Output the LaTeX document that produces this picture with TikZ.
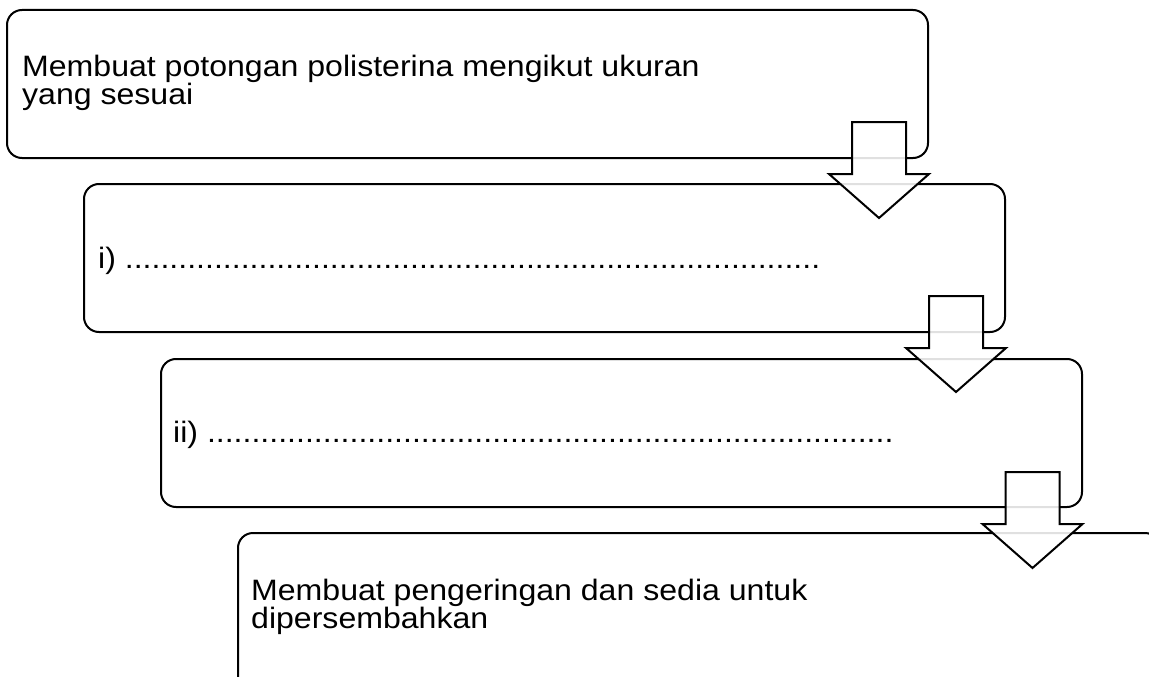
\documentclass[tikz,border=0pt]{standalone}
\usepackage{fontspec}
\setmainfont{Liberation Sans}[FakeStretch=1.087]
\begin{document}
\begin{tikzpicture}[x=1pt,y=-1pt,
  box/.style={draw=black, line width=2pt, rounded corners=15pt, fill=none,
    anchor=north west, inner sep=0pt, minimum width=921pt, minimum height=148pt},
  txt/.style={inner sep=0pt, anchor=base west, align=left, text=black,
    font=\fontsize{29.5}{28}\selectfont},
  arrowbody/.style={draw=black, line width=2pt, fill=white, fill opacity=0.88, line join=miter},
  blockarrow/.pic={\path[arrowbody] (-27,0) -- (27,0) -- (27,52) -- (50,52) -- (0,96) -- (-50,52) -- (-27,52) -- cycle;}
]
\useasboundingbox (0,0) rectangle (1149,677);
\clip (0,0) rectangle (1149,677);
\node[box] (b1) at (6,9) {};
\node[box] (b2) at (83,183) {};
\node[box] (b3) at (160,358) {};
\node[box, minimum width=922pt, minimum height=170pt] (b4) at (237,532) {};
\node[txt] (t1) at (22,104) {Membuat potongan polisterina mengikut ukuran\\yang sesuai};
\node[txt] (t2) at (98,268) {i) ..............................................................................};
\node[txt] (t3) at (173,442) {ii) .............................................................................};
\node[txt] (t4) at (251,628) {Membuat pengeringan dan sedia untuk\\dipersembahkan};
\coordinate (a1) at (879,122);
\coordinate (a2) at (956,296);
\coordinate (a3) at (1032.5,472);
\pic at (a1) {blockarrow};
\pic at (a2) {blockarrow};
\pic at (a3) {blockarrow};
\end{tikzpicture}
\end{document}
